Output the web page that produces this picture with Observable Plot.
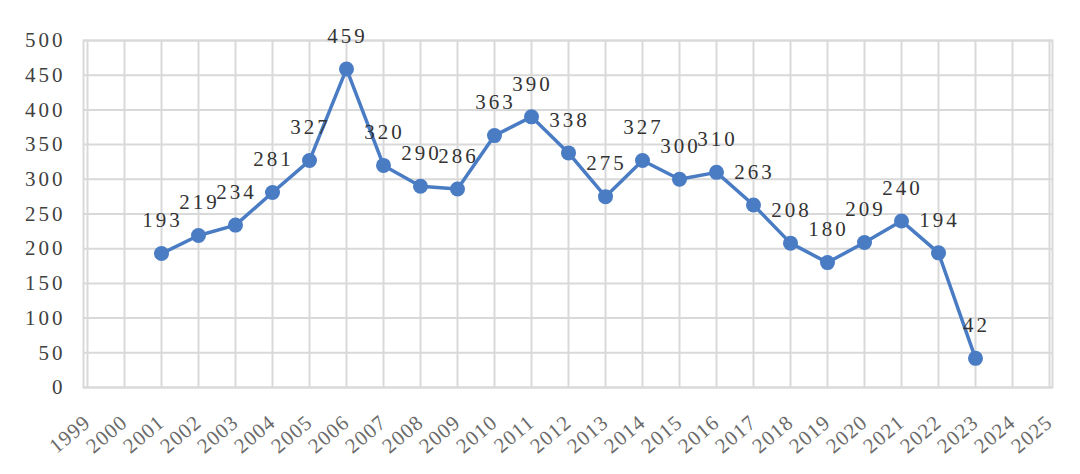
<!DOCTYPE html>
<html>
<head>
<meta charset="utf-8">
<script src="https://cdn.jsdelivr.net/npm/d3@7"></script>
<script src="https://cdn.jsdelivr.net/npm/@observablehq/plot@0.6"></script>
<style>
  html, body { margin: 0; padding: 0; background: #fff; }
  #chart svg { display: block; }
  #chart svg text { letter-spacing: 3px; }
  #chart svg g.xlab text { letter-spacing: 1px; }
</style>
</head>
<body>
<div id="chart"></div>
<script>
const years = [1999, 2000, 2001, 2002, 2003, 2004, 2005, 2006, 2007, 2008, 2009, 2010, 2011, 2012, 2013, 2014, 2015, 2016, 2017, 2018, 2019, 2020, 2021, 2022, 2023, 2024, 2025];
const dataYears = [2001, 2002, 2003, 2004, 2005, 2006, 2007, 2008, 2009, 2010, 2011, 2012, 2013, 2014, 2015, 2016, 2017, 2018, 2019, 2020, 2021, 2022, 2023];
const counts = [193, 219, 234, 281, 327, 459, 320, 290, 286, 363, 390, 338, 275, 327, 300, 310, 263, 208, 180, 209, 240, 194, 42];
const yTicks = [0, 50, 100, 150, 200, 250, 300, 350, 400, 450, 500];

const data = dataYears.map((y, i) => ({year: y, value: counts[i]}));

const blue = "#4a7cc4";
const grid = "#d9d9d9";

const chart = Plot.plot({
  width: 1080,
  height: 474,
  marginLeft: 83,
  marginRight: 28,
  marginTop: 40,
  marginBottom: 87,
  style: {fontFamily: "'Liberation Serif', 'Times New Roman', serif", fontSize: "21px", color: "#404040", background: "#fff"},
  x: {type: "point", domain: years, padding: 0},
  y: {domain: [0, 500]},
  marks: [
    Plot.gridX(years, {stroke: grid, strokeOpacity: 1, strokeWidth: 2}),
    Plot.gridY(yTicks, {stroke: grid, strokeOpacity: 1, strokeWidth: 2}),
    Plot.frame({stroke: grid, strokeWidth: 2}),
    Plot.axisY(yTicks, {tickSize: 0, tickPadding: 18, fill: "#404040", fontSize: 21, label: null}),
    Plot.axisX(years, {tickSize: 0, tickRotate: -40, tickPadding: 32, fill: "#6a6a6a", fontSize: 21, tickFormat: d => String(d), label: null, className: "xlab"}),
    Plot.line(data, {x: "year", y: "value", stroke: blue, strokeWidth: 3.5}),
    Plot.dot(data, {x: "year", y: "value", r: 7.5, fill: blue, stroke: "none"}),
    Plot.text(data, {x: "year", y: "value", text: d => String(d.value), dy: -33, dx: 1, fill: "#333", fontSize: 21})
  ]
});
chart.querySelectorAll("g[aria-label='x-axis tick label']").forEach(g => g.classList.add("xlab"));
document.getElementById("chart").appendChild(chart);
</script>
</body>
</html>
